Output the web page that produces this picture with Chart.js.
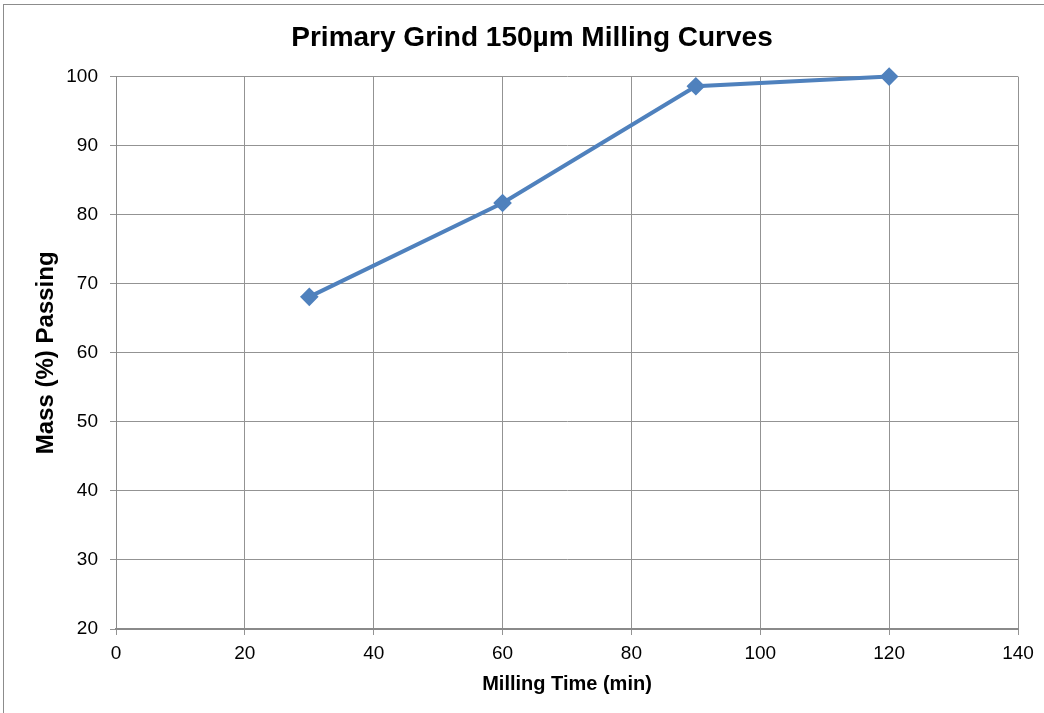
<!DOCTYPE html>
<html>
<head>
<meta charset="utf-8">
<script src="https://cdn.jsdelivr.net/npm/chart.js@4.4.1/dist/chart.umd.min.js"></script>
<style>
  html, body { margin: 0; padding: 0; background: #fff; overflow: hidden; }
  #wrap { position: relative; width: 1044px; height: 713px; }
  #frame { position: absolute; left: 3px; top: 4px; width: 1100px; height: 800px; border: 1px solid #8c8c8c; }
  #grafico { position: absolute; left: 0; top: 0; }
</style>
</head>
<body>
<div id="wrap">
  <div id="frame"></div>
  <canvas id="grafico" width="1044" height="713"></canvas>
</div>
<script>
// dados do grafico
var tempos = [30, 60, 90, 120];
var passante = [68.1, 81.7, 98.6, 100];
var ticksX = [0, 20, 40, 60, 80, 100, 120, 140];
var ticksY = [20, 30, 40, 50, 60, 70, 80, 90, 100];

var fonte = "'Liberation Sans', Arial, sans-serif";
var pontos = tempos.map(function (t, i) { return { x: t, y: passante[i] }; });

new Chart(document.getElementById('grafico'), {
  type: 'line',
  data: {
    datasets: [{
      label: '150um',
      data: pontos,
      borderColor: '#4F81BD',
      backgroundColor: '#4F81BD',
      borderWidth: 4,
      pointStyle: 'rectRot',
      pointRadius: 6.5,
      pointHoverRadius: 6.5,
      tension: 0,
      clip: false
    }]
  },
  options: {
    responsive: false,
    animation: false,
    layout: { padding: { left: 20, right: 0, top: 0, bottom: 0 } },
    plugins: {
      legend: { display: false },
      tooltip: { enabled: false },
      title: {
        display: true,
        text: 'Primary Grind 150µm Milling Curves',
        color: '#000',
        font: { family: fonte, size: 28, weight: 'bold' },
        padding: { top: 21, bottom: 22 }
      }
    },
    scales: {
      x: {
        type: 'linear',
        min: 0, max: 140,
        afterBuildTicks: function (ax) { ax.ticks = ticksX.map(function (v) { return { value: v }; }); },
        afterFit: function (ax) { ax.height = 84; },
        grid: { color: '#939393', lineWidth: 1, tickLength: 6 },
        border: { color: '#8a8a8a', width: 2 },
        ticks: { color: '#000', font: { family: fonte, size: 19 }, padding: 7, maxRotation: 0 },
        title: {
          display: true, text: 'Milling Time (min)', color: '#000',
          font: { family: fonte, size: 20, weight: 'bold' },
          padding: { top: 2, bottom: 17 }
        }
      },
      y: {
        min: 20, max: 100,
        afterBuildTicks: function (ax) { ax.ticks = ticksY.map(function (v) { return { value: v }; }); },
        afterFit: function (ax) { ax.width = 96; },
        grid: { color: '#939393', lineWidth: 1, tickLength: 6 },
        border: { color: '#8a8a8a', width: 1 },
        ticks: { color: '#000', font: { family: fonte, size: 19 }, padding: 12 },
        title: {
          display: true, text: 'Mass (%) Passing', color: '#000',
          font: { family: fonte, size: 24, weight: 'bold' },
          padding: { top: 11.5, bottom: 2 }
        }
      },
      // eixo vazio so para reservar a margem da direita
      y2: {
        position: 'right',
        min: 20, max: 100,
        afterFit: function (ax) { ax.width = 26; },
        grid: { display: false, drawOnChartArea: false },
        border: { display: false },
        ticks: { display: false }
      }
    }
  }
});
</script>
</body>
</html>
